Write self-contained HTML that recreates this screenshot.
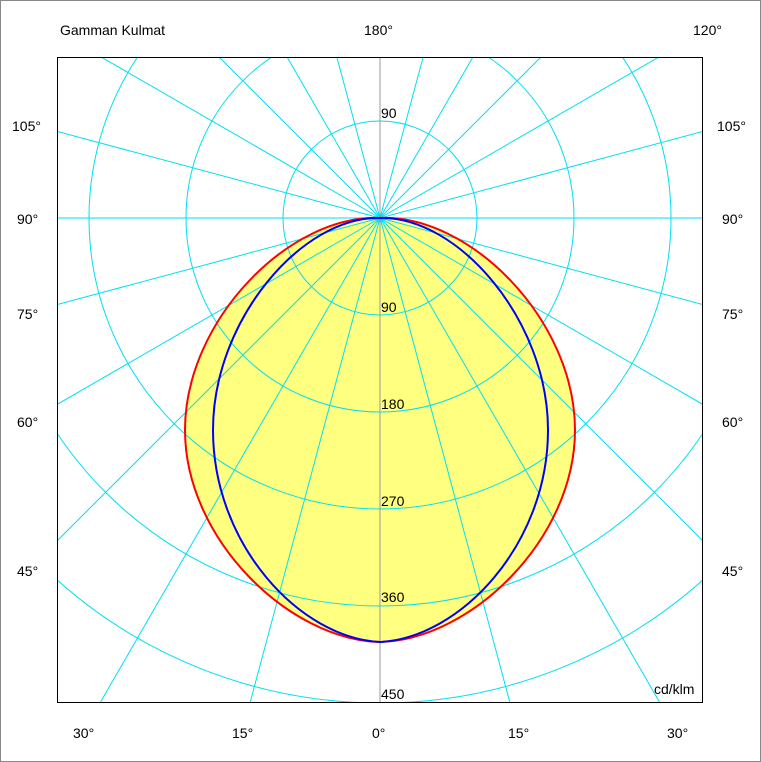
<!DOCTYPE html>
<html><head><style>
html,body{margin:0;padding:0;background:#fff;overflow:hidden;width:761px;height:762px;}
svg{display:block;}
svg text{font-family:"Liberation Sans",Arial,sans-serif;font-size:14px;fill:#000;}
</style></head><body>
<svg width="761" height="762" viewBox="0 0 761 762" xmlns="http://www.w3.org/2000/svg">
<rect x="0.5" y="0.5" width="760" height="761" fill="#fff" stroke="#888"/>
<defs><clipPath id="c"><rect x="57" y="57" width="646" height="646"/></clipPath></defs>
<g clip-path="url(#c)">
<path d="M380,218 C470,214 575,320 575,430 C575,540 470,640 380,642 C290,640 185,540 185,430 C185,320 290,214 380,218 Z" fill="#ffff80" stroke="none"/>
<g stroke="#00e0f0" stroke-width="1" fill="none">
<circle cx="380" cy="218" r="97"/>
<circle cx="380" cy="218" r="194"/>
<circle cx="380" cy="218" r="291"/>
<circle cx="380" cy="218" r="388"/>
<circle cx="380" cy="218" r="485"/>
<line x1="380" y1="218" x2="380" y2="1218"/>
<line x1="380" y1="218" x2="639" y2="1184"/>
<line x1="380" y1="218" x2="880" y2="1084"/>
<line x1="380" y1="218" x2="1087" y2="925"/>
<line x1="380" y1="218" x2="1246" y2="718"/>
<line x1="380" y1="218" x2="1346" y2="477"/>
<line x1="380" y1="218" x2="1380" y2="218"/>
<line x1="380" y1="218" x2="1346" y2="-41"/>
<line x1="380" y1="218" x2="1246" y2="-282"/>
<line x1="380" y1="218" x2="1087" y2="-489"/>
<line x1="380" y1="218" x2="880" y2="-648"/>
<line x1="380" y1="218" x2="639" y2="-748"/>
<line x1="380" y1="218" x2="380" y2="-782"/>
<line x1="380" y1="218" x2="121" y2="1184"/>
<line x1="380" y1="218" x2="-120" y2="1084"/>
<line x1="380" y1="218" x2="-327" y2="925"/>
<line x1="380" y1="218" x2="-486" y2="718"/>
<line x1="380" y1="218" x2="-586" y2="477"/>
<line x1="380" y1="218" x2="-620" y2="218"/>
<line x1="380" y1="218" x2="-586" y2="-41"/>
<line x1="380" y1="218" x2="-486" y2="-282"/>
<line x1="380" y1="218" x2="-327" y2="-489"/>
<line x1="380" y1="218" x2="-120" y2="-648"/>
<line x1="380" y1="218" x2="121" y2="-748"/>
</g>
<line x1="380" y1="57" x2="380" y2="703" stroke="#999"/>
<path d="M380,218 C470,214 575,320 575,430 C575,540 470,640 380,642 C290,640 185,540 185,430 C185,320 290,214 380,218 Z" fill="none" stroke="#f00" stroke-width="2"/>
<path d="M380,218 C458,216 548,320 548,430 C548,545 460,638 380,642 C300,638 213,545 213,430 C213,320 302,216 380,218 Z" fill="none" stroke="#00f" stroke-width="2"/>
</g>
<rect x="57.5" y="57.5" width="645" height="645" fill="none" stroke="#000"/>
<text x="381" y="118">90</text>
<text x="381" y="312">90</text>
<text x="381" y="409">180</text>
<text x="381" y="506">270</text>
<text x="381" y="602">360</text>
<text x="381" y="699">450</text>
<text x="654" y="694">cd/klm</text>
<text x="60" y="35">Gamman Kulmat</text>
<text x="364" y="35">180°</text>
<text x="693" y="35">120°</text>
<text x="12" y="131">105°</text><text x="717" y="131">105°</text>
<text x="17" y="224">90°</text><text x="722" y="224">90°</text>
<text x="17" y="319">75°</text><text x="722" y="319">75°</text>
<text x="17" y="427">60°</text><text x="722" y="427">60°</text>
<text x="17" y="576">45°</text><text x="722" y="576">45°</text>
<text x="73" y="738">30°</text>
<text x="232" y="738">15°</text>
<text x="372" y="738">0°</text>
<text x="508" y="738">15°</text>
<text x="667" y="738">30°</text>
</svg>
</body></html>
